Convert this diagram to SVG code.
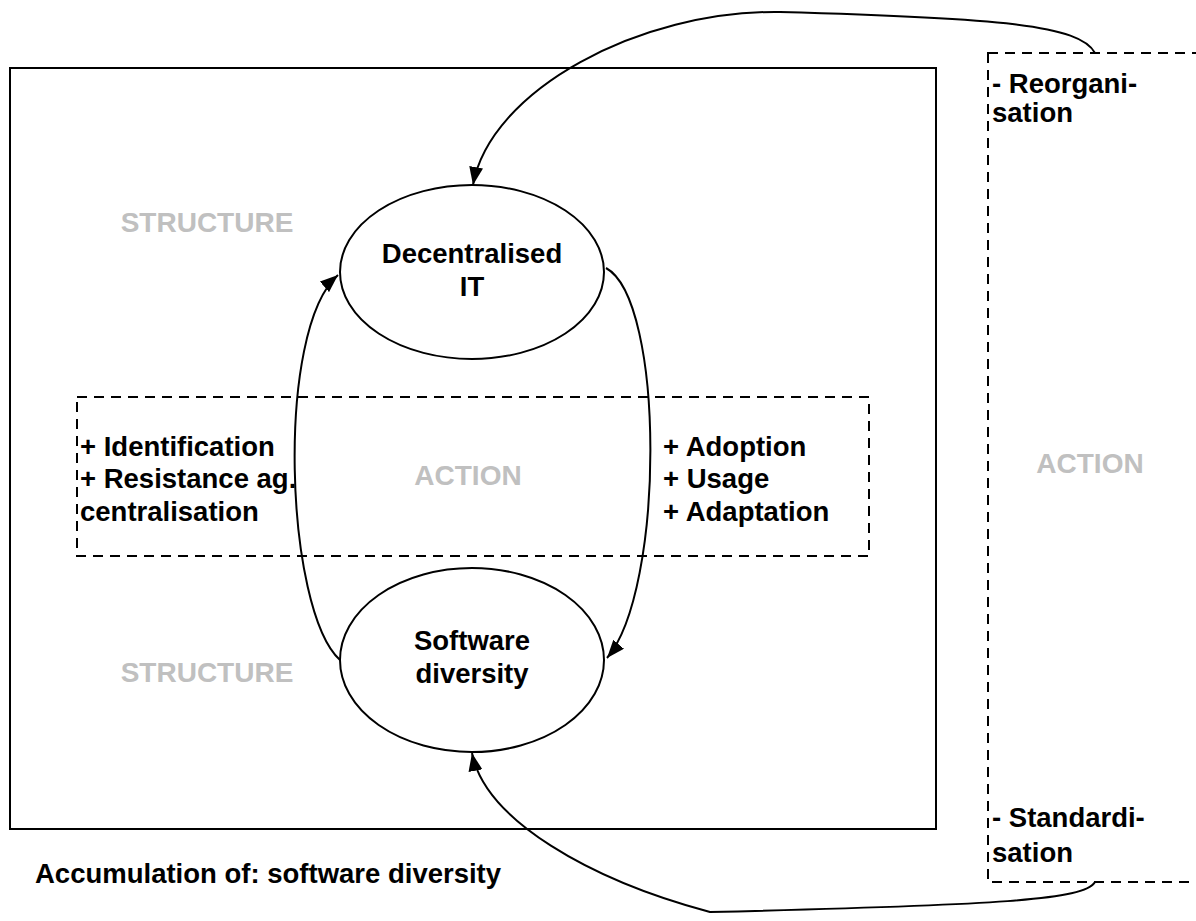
<svg xmlns="http://www.w3.org/2000/svg" width="1196" height="921" viewBox="0 0 1196 921">
  <style>
    .box { fill: none; stroke: #000; stroke-width: 2; }
    .dash { fill: none; stroke: #000; stroke-width: 2; stroke-dasharray: 10 7; }
    .node { fill: #fff; stroke: #000; stroke-width: 2; }
    .edge { fill: none; stroke: #000; stroke-width: 2; }
    .t { font-family: "Liberation Sans", Arial, sans-serif; font-weight: bold; font-size: 27.5px; fill: #000; }
    .g { font-family: "Liberation Sans", Arial, sans-serif; font-weight: bold; font-size: 28px; fill: #c0c0c0; }
    .c { text-anchor: middle; }
  </style>
  <defs>
    <marker id="arrow" viewBox="0 0 18 14" refX="18" refY="7" markerWidth="18" markerHeight="14" markerUnits="userSpaceOnUse" orient="auto">
      <path d="M0,0 L18,7 L0,14 Z" fill="#000"/>
    </marker>
  </defs>
  <rect width="1196" height="921" fill="#fff"/>

  <!-- structure frame -->
  <g id="structure-frame">
    <rect class="box" x="10" y="68" width="926" height="761"/>
    <text class="g c" x="207" y="232">STRUCTURE</text>
    <text class="g c" x="207" y="682">STRUCTURE</text>
  </g>

  <!-- inner action band -->
  <g id="action-inner">
    <rect class="dash" x="77" y="397" width="792" height="159"/>
    <text class="g c" x="468" y="485">ACTION</text>
    <text class="t" x="80" y="456">+ Identification</text>
    <text class="t" x="80" y="488">+ Resistance ag.</text>
    <text class="t" x="80" y="521">centralisation</text>
    <text class="t" x="663" y="456">+ Adoption</text>
    <text class="t" x="663" y="488">+ Usage</text>
    <text class="t" x="663" y="521">+ Adaptation</text>
  </g>

  <!-- outer action column -->
  <g id="action-outer">
    <rect class="dash" x="988" y="53" width="230" height="829"/>
    <text class="g c" x="1090" y="473">ACTION</text>
    <text class="t" x="992" y="93">- Reorgani-</text>
    <text class="t" x="992" y="122">sation</text>
    <text class="t" x="992" y="827">- Standardi-</text>
    <text class="t" x="992" y="862">sation</text>
  </g>

  <!-- connectors -->
  <g id="connectors">
    <path class="edge" d="M340,660 C285,610 275,330 338,275" marker-end="url(#arrow)"/>
    <path class="edge" d="M606,268 C665,300 665,590 607,658" marker-end="url(#arrow)"/>
    <path class="edge" d="M1095,53 C1080,25 1000,18 780,12 C640,10 490,90 473,185" marker-end="url(#arrow)"/>
    <path class="edge" d="M1095,882 C1085,900 1000,905 710,912 C590,880 485,820 472,753" marker-end="url(#arrow)"/>
  </g>

  <g id="node-decentralised-it">
    <ellipse class="node" cx="472" cy="272" rx="132" ry="87"/>
    <text class="t c" x="472" y="263">Decentralised</text>
    <text class="t c" x="472" y="296">IT</text>
  </g>

  <g id="node-software-diversity">
    <ellipse class="node" cx="472" cy="660" rx="132" ry="92"/>
    <text class="t c" x="472" y="650">Software</text>
    <text class="t c" x="472" y="683">diversity</text>
  </g>

  <g id="caption">
    <text class="t" x="35" y="883">Accumulation of: software diversity</text>
  </g>
</svg>
